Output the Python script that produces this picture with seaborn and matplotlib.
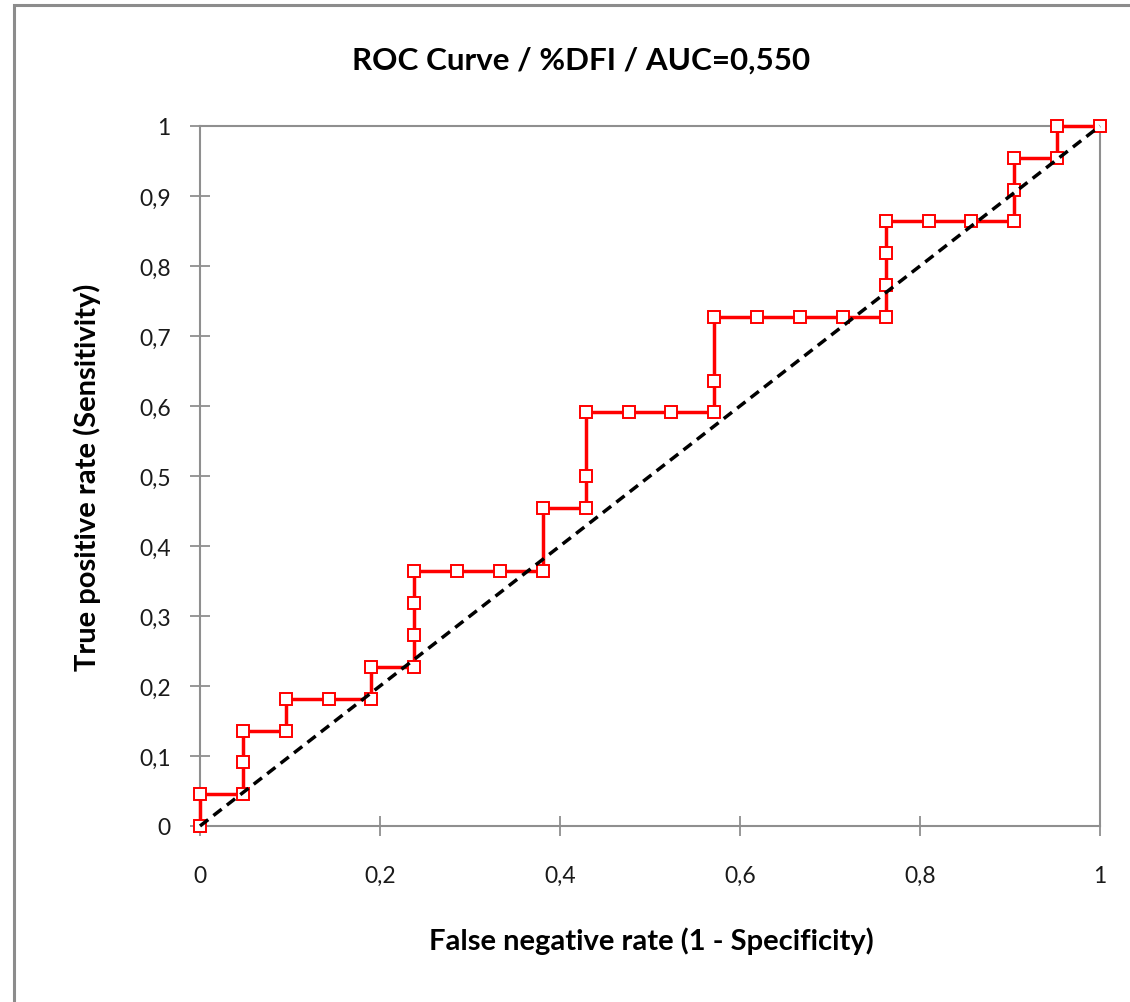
import matplotlib
matplotlib.use("Agg")
import matplotlib.pyplot as plt
import matplotlib.patches as mpatches
from matplotlib.ticker import FuncFormatter
import seaborn as sns
import pandas as pd

# ROC points for %DFI (21 negatives, 22 positives)
fpr = [0.0, 0.0, 0.0476, 0.0476, 0.0476, 0.0952, 0.0952, 0.1429, 0.1905, 0.1905,
       0.2381, 0.2381, 0.2381, 0.2381, 0.2857, 0.3333, 0.3810, 0.3810, 0.4286, 0.4286,
       0.4286, 0.4762, 0.5238, 0.5714, 0.5714, 0.5714, 0.6190, 0.6667, 0.7143, 0.7619,
       0.7619, 0.7619, 0.7619, 0.8095, 0.8571, 0.9048, 0.9048, 0.9048, 0.9524, 0.9524,
       1.0]
tpr = [0.0, 0.0455, 0.0455, 0.0909, 0.1364, 0.1364, 0.1818, 0.1818, 0.1818, 0.2273,
       0.2273, 0.2727, 0.3182, 0.3636, 0.3636, 0.3636, 0.3636, 0.4545, 0.4545, 0.5,
       0.5909, 0.5909, 0.5909, 0.5909, 0.6364, 0.7273, 0.7273, 0.7273, 0.7273, 0.7273,
       0.7727, 0.8182, 0.8636, 0.8636, 0.8636, 0.8636, 0.9091, 0.9545, 0.9545, 1.0,
       1.0]
chance_x = [0.0, 1.0]
chance_y = [0.0, 1.0]

title = "ROC Curve / %DFI / AUC=0,550"
x_label = "False negative rate (1 - Specificity)"
y_label = "True positive rate (Sensitivity)"
x_ticks = [0, 0.2, 0.4, 0.6, 0.8, 1]
y_ticks = [0, 0.1, 0.2, 0.3, 0.4, 0.5, 0.6, 0.7, 0.8, 0.9, 1]

sns.set_theme(style="white")
plt.rcParams["font.family"] = ["Lato", "DejaVu Sans"]

W, H = 1130, 1003
fig = plt.figure(figsize=(W / 100, H / 100), dpi=100)
ax = fig.add_axes([200 / W, 1 - 827 / H, 900 / W, 700 / H])

roc = pd.DataFrame({"fpr": fpr, "tpr": tpr})
chance = pd.DataFrame({"x": chance_x, "y": chance_y})

sns.lineplot(data=roc, x="fpr", y="tpr", sort=False, estimator=None, ax=ax,
             color="#ff0000", linewidth=2.5, marker="s", markersize=8.5,
             markerfacecolor="white", markeredgecolor="#ff0000",
             markeredgewidth=1.4, zorder=3, clip_on=False)
sns.lineplot(data=chance, x="x", y="y", sort=False, estimator=None, ax=ax,
             color="black", linewidth=2.5, linestyle=(0, (3.0, 1.9)),
             zorder=4, clip_on=False)

ax.set_xlim(0, 1)
ax.set_ylim(0, 1)
ax.set_xticks(x_ticks)
ax.set_yticks(y_ticks)
fmt = FuncFormatter(lambda v, p: ("%g" % round(v, 2)).replace(".", ","))
ax.xaxis.set_major_formatter(fmt)
ax.yaxis.set_major_formatter(fmt)

axis_grey = "#8f8f8f"
for s in ax.spines.values():
    s.set_color(axis_grey)
    s.set_linewidth(1.5)
ax.tick_params(axis="both", direction="inout", length=14, width=1.3,
               color=axis_grey, labelsize=16.5, labelcolor="#1a1a1a")
ax.tick_params(axis="x", pad=21, bottom=True)
ax.tick_params(axis="y", pad=14, left=True)

ax.set_xlabel(x_label, fontsize=21, fontweight="bold", color="black", va="baseline")
ax.xaxis.set_label_coords(0.501, (827 - 950) / 700)
ax.set_ylabel(y_label, fontsize=21, fontweight="bold", color="black", va="center")
ax.yaxis.set_label_coords((87 - 200) / 900, 0.5)

fig.text(581 / W, 1 - 70 / H, title, ha="center", va="baseline",
         fontsize=22.6, fontweight="bold", color="black")

# chart-area frame
frame = mpatches.Rectangle((14 / W, -0.1), 2.0, 1.1 - 6 / H, transform=fig.transFigure,
                           fill=False, edgecolor="#8c8c8c", linewidth=2.2, clip_on=False)
fig.patches.append(frame)

fig.savefig("out.png", dpi=100)
